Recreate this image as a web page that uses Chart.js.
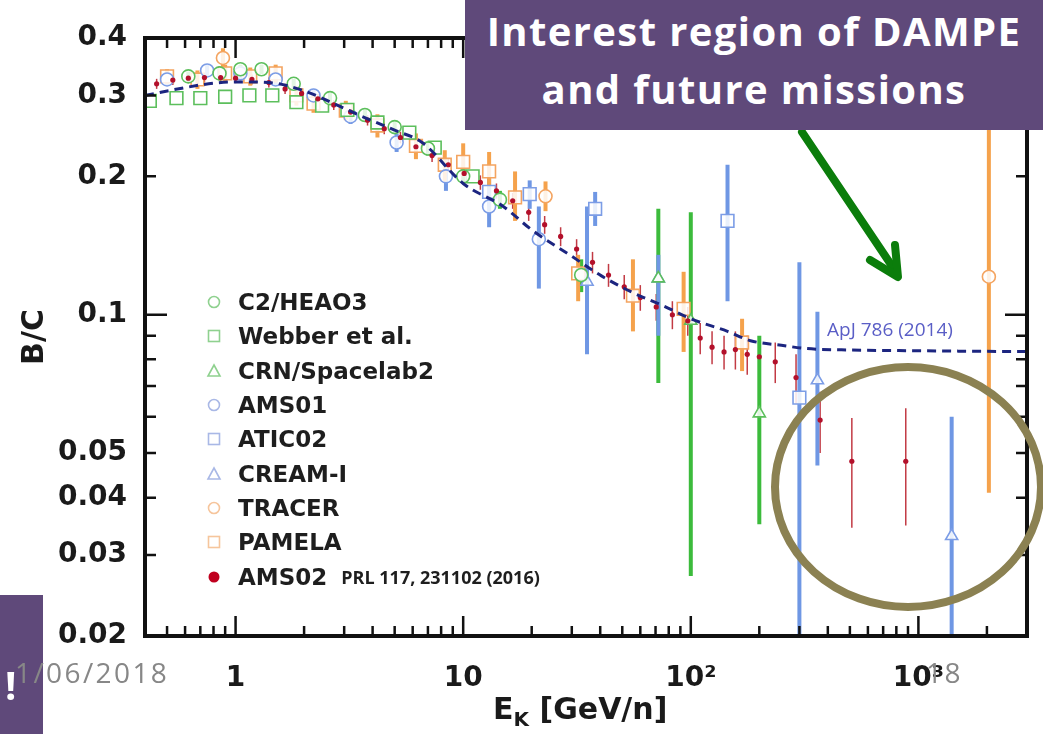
<!DOCTYPE html>
<html lang="en">
<head>
    <meta charset="UTF-8">
    <title>B/C ratio</title>
    <script src="https://cdn.jsdelivr.net/npm/chart.js"></script>
    <style>
        body {
            margin: 0;
            padding: 0;
            background: #ffffff;
        }
        .slide {
            position: relative;
            width: 1043px;
            height: 734px;
            overflow: hidden;
            background: #ffffff;
        }
        #bcChart {
            position: absolute;
            left: 0;
            top: 0;
        }
        .overlay {
            position: absolute;
            left: 0;
            top: 0;
            pointer-events: none;
        }
        .callout {
            position: absolute;
            left: 465px;
            top: 0;
            width: 578px;
            height: 130px;
            background: #5f497a;
            color: #ffffff;
            font-family: "Open Sans", sans-serif;
            font-weight: bold;
            font-size: 40px;
            letter-spacing: 1.4px;
            line-height: 58px;
            text-align: center;
            padding-top: 2px;
            box-sizing: border-box;
        }
        .tab {
            position: absolute;
            left: 0;
            top: 595px;
            width: 43px;
            height: 139px;
            background: #5f497a;
            color: #ffffff;
            font-family: "Open Sans", sans-serif;
            font-weight: bold;
            font-size: 40px;
        }
        .tab span {
            position: absolute;
            left: 5px;
            top: 62px;
        }
        .footer {
            position: absolute;
            font-family: "Open Sans", sans-serif;
            font-size: 28px;
            letter-spacing: 2.4px;
            color: #878787;
            line-height: 1;
        }
        .xtitle {
            position: absolute;
            left: 493px;
            top: 694px;
            font-family: "DejaVu Sans", sans-serif;
            font-weight: bold;
            font-size: 30px;
            color: #1a1a1a;
            line-height: 1;
        }
        .xtitle sub {
            font-size: 20px;
            vertical-align: -7px;
        }
        .legend {
            position: absolute;
            left: 204px;
            top: 285px;
            font-family: "DejaVu Sans", sans-serif;
            font-weight: bold;
            font-size: 23px;
            color: #1e1e1e;
        }
        .legend .row {
            height: 34.3px;
            display: flex;
            align-items: center;
        }
        .legend svg {
            width: 20px;
            height: 20px;
            margin-right: 14px;
        }
        .legend .ref {
            font-family: "Open Sans", sans-serif;
            font-size: 18px;
            font-weight: bold;
            margin-left: 14px;
        }
        .apj {
            position: absolute;
            left: 827px;
            top: 316px;
            font-family: "Open Sans", sans-serif;
            font-size: 19px;
            color: #5a5ec6;
        }
    </style>
</head>
<body>
<div class="slide">
    <canvas id="bcChart" width="1043" height="734"></canvas>

    <div class="legend" id="legend"></div>
    <div class="apj">ApJ 786 (2014)</div>
    <div class="xtitle">E<sub>K</sub> [GeV/n]</div>

    <svg class="overlay" width="1043" height="734">
        <ellipse cx="908" cy="487" rx="133" ry="120" fill="none" stroke="#8b8152" stroke-width="8"/>
        <line x1="802" y1="132" x2="896" y2="272" stroke="#0b7d0b" stroke-width="8" stroke-linecap="round"/>
        <polyline points="870,260 898,277 895,245" fill="none" stroke="#0b7d0b" stroke-width="8" stroke-linecap="round" stroke-linejoin="round"/>
    </svg>

    <div class="callout">Interest region of DAMPE<br>and future missions</div>
    <div class="tab"><span>!</span></div>
    <div class="footer" style="left:15px; top:658px;">1/06/2018</div>
    <div class="footer" style="left:926px; top:658px;">18</div>
</div>

<script>
    // B/C vs kinetic energy per nucleon (GeV/n)

    // C2/HEAO3
    const c2E  = [0.62, 0.85, 1.05, 1.3, 1.8, 2.6, 3.7, 5.0, 7.0, 10, 14.5, 33];
    const c2BC = [0.33, 0.335, 0.342, 0.342, 0.318, 0.296, 0.272, 0.256, 0.23, 0.2, 0.178, 0.122];
    const c2Lo = [0.322, 0.327, 0.334, 0.334, 0.31, 0.288, 0.264, 0.248, 0.222, 0.193, 0.17, 0.112];
    const c2Hi = [0.338, 0.343, 0.35, 0.35, 0.326, 0.304, 0.28, 0.264, 0.238, 0.207, 0.186, 0.132];

    // Webber et al.
    const webE  = [0.42, 0.55, 0.7, 0.9, 1.15, 1.45, 1.85, 2.4, 3.1, 4.2, 5.8, 7.5, 11];
    const webBC = [0.292, 0.296, 0.296, 0.298, 0.3, 0.3, 0.29, 0.285, 0.279, 0.262, 0.249, 0.231, 0.2];

    // CRN/Spacelab2
    const crnE  = [72, 100, 200];
    const crnBC = [0.12, 0.097, 0.061];
    const crnLo = [0.071, 0.027, 0.035];
    const crnHi = [0.17, 0.167, 0.09];

    // AMS01
    const ams01E  = [0.5, 0.75, 1.05, 1.5, 2.2, 3.2, 5.1, 8.4, 13, 21.5];
    const ams01BC = [0.325, 0.34, 0.335, 0.325, 0.3, 0.27, 0.237, 0.2, 0.172, 0.146];
    const ams01Lo = [0.315, 0.33, 0.325, 0.315, 0.29, 0.26, 0.226, 0.186, 0.155, 0.114];
    const ams01Hi = [0.335, 0.35, 0.345, 0.335, 0.31, 0.28, 0.248, 0.214, 0.19, 0.172];

    // ATIC02
    const aticE  = [13, 19.6, 38, 145, 300];
    const aticBC = [0.185, 0.183, 0.17, 0.16, 0.066];
    const aticLo = [0.172, 0.17, 0.156, 0.107, 0.015];
    const aticHi = [0.198, 0.196, 0.185, 0.212, 0.13];

    // CREAM-I
    const creamE  = [35, 72, 360, 1400];
    const creamBC = [0.118, 0.12, 0.072, 0.033];
    const creamLo = [0.082, 0.09, 0.047, 0.012];
    const creamHi = [0.172, 0.135, 0.1015, 0.06];

    // TRACER
    const tracerE  = [0.88, 23, 2040];
    const tracerBC = [0.362, 0.181, 0.121];
    const tracerLo = [0.345, 0.168, 0.041];
    const tracerHi = [0.38, 0.195, 0.6];

    // PAMELA
    const pamE  = [0.5, 0.68, 0.9, 1.16, 1.5, 1.85, 2.2, 3.05, 4.2, 6.2, 8.3, 10, 13, 16.9, 32, 55.7, 93, 168];
    const pamBC = [0.33, 0.325, 0.335, 0.33, 0.335, 0.3, 0.288, 0.278, 0.258, 0.233, 0.212, 0.215, 0.205, 0.18, 0.123, 0.11, 0.103, 0.087];
    const pamLo = [0.318, 0.31, 0.32, 0.315, 0.32, 0.285, 0.275, 0.265, 0.243, 0.218, 0.195, 0.2, 0.19, 0.16, 0.107, 0.092, 0.083, 0.0754];
    const pamHi = [0.342, 0.34, 0.35, 0.345, 0.35, 0.315, 0.3, 0.292, 0.273, 0.248, 0.228, 0.236, 0.226, 0.205, 0.135, 0.132, 0.124, 0.098];

    // AMS02 PRL 117, 231102 (2016)
    const ams02E  = [0.45, 0.53, 0.62, 0.73, 0.86, 1.0, 1.18, 1.4, 1.65, 1.95, 2.3, 2.7, 3.2, 3.8, 4.5, 5.3, 6.2, 7.3, 8.6, 10.1,
                     11.9, 14.0, 16.5, 19.4, 22.8, 26.8, 31.5, 37, 43.5, 51, 60, 70.5, 83, 97, 110, 124, 140, 157, 177, 200,
                     235, 290, 370, 510, 880];
    const ams02BC = [0.318, 0.324, 0.327, 0.328, 0.328, 0.327, 0.325, 0.32, 0.31, 0.303, 0.295, 0.286, 0.276, 0.265, 0.254, 0.243, 0.232, 0.222, 0.212, 0.203,
                     0.194, 0.186, 0.177, 0.167, 0.157, 0.148, 0.139, 0.13, 0.122, 0.115, 0.109, 0.104, 0.1, 0.097, 0.089, 0.085, 0.083, 0.084, 0.082, 0.081,
                     0.079, 0.073, 0.059, 0.048, 0.048];
    const ams02Lo = [0.31, 0.316, 0.319, 0.32, 0.32, 0.319, 0.317, 0.312, 0.302, 0.295, 0.288, 0.279, 0.269, 0.258, 0.247, 0.236, 0.225, 0.215, 0.205, 0.196,
                     0.187, 0.179, 0.17, 0.16, 0.15, 0.141, 0.132, 0.123, 0.115, 0.108, 0.102, 0.097, 0.093, 0.09, 0.082, 0.078, 0.076, 0.076, 0.074, 0.073,
                     0.071, 0.064, 0.05, 0.0344, 0.0348];
    const ams02Hi = [0.326, 0.332, 0.335, 0.336, 0.336, 0.335, 0.333, 0.328, 0.318, 0.311, 0.302, 0.293, 0.283, 0.272, 0.261, 0.25, 0.239, 0.229, 0.219, 0.21,
                     0.201, 0.193, 0.184, 0.174, 0.164, 0.155, 0.146, 0.137, 0.129, 0.122, 0.116, 0.111, 0.107, 0.104, 0.096, 0.092, 0.09, 0.092, 0.09, 0.089,
                     0.087, 0.082, 0.068, 0.0596, 0.0626];

    // propagation model, ApJ 786 (2014)
    const modelE  = [0.4, 0.6, 0.8, 1.0, 1.4, 2.0, 2.7, 3.6, 5, 6.6, 10, 15, 20, 30, 40.5, 55, 76, 100, 145, 183, 250, 323, 500, 1000, 2560, 3000];
    const modelBC = [0.3, 0.312, 0.319, 0.321, 0.32, 0.307, 0.288, 0.27, 0.252, 0.237, 0.193, 0.172, 0.153, 0.134, 0.1215, 0.112, 0.1045, 0.098, 0.092, 0.0878, 0.0858, 0.0844, 0.0838, 0.0835, 0.0832, 0.0832];

    // axis labels
    const xTickValues = [1, 10, 100, 1000];
    const xTickText   = ['1', '10', '10\u00b2', '10\u00b3'];
    const yTickValues = [0.02, 0.03, 0.04, 0.05, 0.1, 0.2, 0.3, 0.4];
    const yTickText   = ['0.02', '0.03', '0.04', '0.05', '0.1', '0.2', '0.3', '0.4'];

    const GREEN = '#5cbf5c', GREEN_BAR = '#3cbb3c';
    const BLUE = '#7c9de6', BLUE_BAR = '#6f97e4';
    const ORANGE = '#f4a460', ORANGE_BAR = '#f5a24c';
    const RED = '#b3102b';

    function pts(xs, ys, lo, hi) {
        return xs.map((x, i) => ({ x: x, y: ys[i], lo: lo ? lo[i] : null, hi: hi ? hi[i] : null }));
    }

    function series(label, xs, ys, lo, hi, color, barColor, shape, radius, legendColor) {
        return {
            label: label,
            data: pts(xs, ys, lo, hi),
            pointStyle: shape,
            pointRadius: radius,
            pointBorderWidth: 1.6,
            pointBorderColor: color,
            pointBackgroundColor: 'rgba(255,255,255,0.85)',
            showLine: false,
            errColor: barColor,
            errWidth: 4,
            legendColor: legendColor
        };
    }

    const datasets = [
        {
            label: 'model',
            data: modelE.map((x, i) => ({ x: x, y: modelBC[i] })),
            showLine: true,
            borderColor: '#1c2580',
            borderWidth: 3,
            borderDash: [9, 6],
            cubicInterpolationMode: 'monotone',
            pointRadius: 0
        },
        {
            label: 'AMS02',
            data: pts(ams02E, ams02BC, ams02Lo, ams02Hi),
            pointStyle: 'circle',
            pointRadius: 2.6,
            pointBorderWidth: 0,
            pointBackgroundColor: RED,
            showLine: false,
            errColor: '#c23a44',
            errWidth: 1.5,
            legendColor: '#c0001f',
            ref: 'PRL 117, 231102 (2016)'
        },
        series('C2/HEAO3', c2E, c2BC, c2Lo, c2Hi, GREEN, GREEN_BAR, 'circle', 6.5, '#8fd18f'),
        series('Webber et al.', webE, webBC, null, null, GREEN, GREEN_BAR, 'rect', 9, '#8fd18f'),
        series('CRN/Spacelab2', crnE, crnBC, crnLo, crnHi, GREEN, GREEN_BAR, 'triangle', 7, '#8fd18f'),
        series('AMS01', ams01E, ams01BC, ams01Lo, ams01Hi, BLUE, BLUE_BAR, 'circle', 6.5, '#a9b8e6'),
        series('ATIC02', aticE, aticBC, aticLo, aticHi, BLUE, BLUE_BAR, 'rect', 9, '#a9b8e6'),
        series('CREAM-I', creamE, creamBC, creamLo, creamHi, BLUE, BLUE_BAR, 'triangle', 7, '#a9b8e6'),
        series('TRACER', tracerE, tracerBC, tracerLo, tracerHi, ORANGE, ORANGE_BAR, 'circle', 6.5, '#f6c59c'),
        series('PAMELA', pamE, pamBC, pamLo, pamHi, ORANGE, ORANGE_BAR, 'rect', 9, '#f6c59c')
    ];

    // vertical error bars, drawn under the markers
    const errorBars = {
        id: 'errorBars',
        beforeDatasetsDraw(chart) {
            const { ctx, chartArea: a, scales: { y } } = chart;
            ctx.save();
            ctx.beginPath();
            ctx.rect(a.left, a.top, a.right - a.left, a.bottom - a.top);
            ctx.clip();
            chart.data.datasets.forEach((ds, i) => {
                if (!ds.errColor) return;
                const meta = chart.getDatasetMeta(i);
                ctx.strokeStyle = ds.errColor;
                ctx.lineWidth = ds.errWidth;
                meta.data.forEach((el, j) => {
                    const d = ds.data[j];
                    if (d.lo == null) return;
                    ctx.beginPath();
                    ctx.moveTo(el.x, y.getPixelForValue(d.lo));
                    ctx.lineTo(el.x, y.getPixelForValue(d.hi));
                    ctx.stroke();
                });
            });
            ctx.restore();
        }
    };

    // box frame with inward ticks on all four sides
    const frame = {
        id: 'frame',
        afterDatasetsDraw(chart) {
            const { ctx, chartArea: a, scales: { x, y } } = chart;
            ctx.save();
            ctx.strokeStyle = '#111111';
            ctx.lineWidth = 2.5;
            ctx.beginPath();
            x.ticks.forEach(t => {
                const px = x.getPixelForValue(t.value);
                const len = t.major ? 20 : 10;
                ctx.moveTo(px, a.bottom); ctx.lineTo(px, a.bottom - len);
                ctx.moveTo(px, a.top); ctx.lineTo(px, a.top + len);
            });
            y.ticks.forEach(t => {
                const py = y.getPixelForValue(t.value);
                const len = t.major ? 22 : 11;
                ctx.moveTo(a.left, py); ctx.lineTo(a.left + len, py);
                ctx.moveTo(a.right, py); ctx.lineTo(a.right - len, py);
            });
            ctx.stroke();
            ctx.lineWidth = 4;
            ctx.strokeRect(a.left, a.top, a.right - a.left, a.bottom - a.top);
            ctx.restore();
        }
    };

    // 1..9 x 10^n ticks inside the axis range
    function logTicks(scale) {
        const ticks = [];
        const e0 = Math.floor(Math.log10(scale.min)), e1 = Math.ceil(Math.log10(scale.max));
        for (let e = e0; e <= e1; e++) {
            for (let m = 1; m <= 9; m++) {
                const v = parseFloat((m * Math.pow(10, e)).toPrecision(6));
                if (v >= scale.min * 0.9999 && v <= scale.max * 1.0001) ticks.push({ value: v, major: m === 1 });
            }
        }
        scale.ticks = ticks;
    }

    function labelFor(v, values, texts) {
        const i = values.findIndex(t => Math.abs(v / t - 1) < 1e-6);
        return i < 0 ? '' : texts[i];
    }

    const tickFont = { family: 'DejaVu Sans', weight: 'bold', size: 28 };

    new Chart(document.getElementById('bcChart'), {
        type: 'scatter',
        data: { datasets: datasets },
        options: {
            responsive: false,
            animation: false,
            layout: { padding: { left: 0, right: 16, top: 38, bottom: 0 } },
            plugins: {
                legend: { display: false },
                tooltip: { enabled: false }
            },
            scales: {
                x: {
                    type: 'logarithmic',
                    min: 0.4,
                    max: 3000,
                    afterBuildTicks: logTicks,
                    afterFit: s => {
                        s.height = 98;
                        s.paddingLeft = 0;
                        s.paddingRight = 0;
                    },
                    grid: { display: false, drawTicks: false },
                    border: { display: false },
                    ticks: {
                        autoSkip: false,
                        maxRotation: 0,
                        padding: 26,
                        font: tickFont,
                        color: '#1a1a1a',
                        callback: v => labelFor(v, xTickValues, xTickText)
                    }
                },
                y: {
                    type: 'logarithmic',
                    min: 0.02,
                    max: 0.4,
                    afterBuildTicks: logTicks,
                    afterFit: s => { s.width = 145; },
                    grid: { display: false, drawTicks: false },
                    border: { display: false },
                    title: {
                        display: true,
                        text: 'B/C',
                        color: '#1a1a1a',
                        font: { family: 'DejaVu Sans', weight: 'bold', size: 30 },
                        padding: { top: 17, bottom: 0 }
                    },
                    ticks: {
                        autoSkip: false,
                        padding: 18,
                        font: tickFont,
                        color: '#1a1a1a',
                        callback: v => labelFor(v, yTickValues, yTickText)
                    }
                }
            }
        },
        plugins: [errorBars, frame]
    });

    // legend in the lower left of the plot
    function markerSvg(shape, color, filled) {
        if (filled) return '<svg viewBox="0 0 20 20"><circle cx="10" cy="10" r="5.5" fill="' + color + '"/></svg>';
        if (shape === 'rect') return '<svg viewBox="0 0 20 20"><rect x="4.5" y="4.5" width="11" height="11" fill="none" stroke="' + color + '" stroke-width="1.6"/></svg>';
        if (shape === 'triangle') return '<svg viewBox="0 0 20 20"><polygon points="10,4 16,15 4,15" fill="none" stroke="' + color + '" stroke-width="1.6"/></svg>';
        return '<svg viewBox="0 0 20 20"><circle cx="10" cy="10" r="5.5" fill="none" stroke="' + color + '" stroke-width="1.6"/></svg>';
    }

    const legendOrder = ['C2/HEAO3', 'Webber et al.', 'CRN/Spacelab2', 'AMS01', 'ATIC02', 'CREAM-I', 'TRACER', 'PAMELA', 'AMS02'];
    document.getElementById('legend').innerHTML = legendOrder.map(name => {
        const ds = datasets.find(d => d.label === name);
        const filled = name === 'AMS02';
        return '<div class="row">' + markerSvg(ds.pointStyle, ds.legendColor, filled) + '<span>' + name + '</span>' +
            (ds.ref ? '<span class="ref">' + ds.ref + '</span>' : '') + '</div>';
    }).join('');
</script>
</body>
</html>
